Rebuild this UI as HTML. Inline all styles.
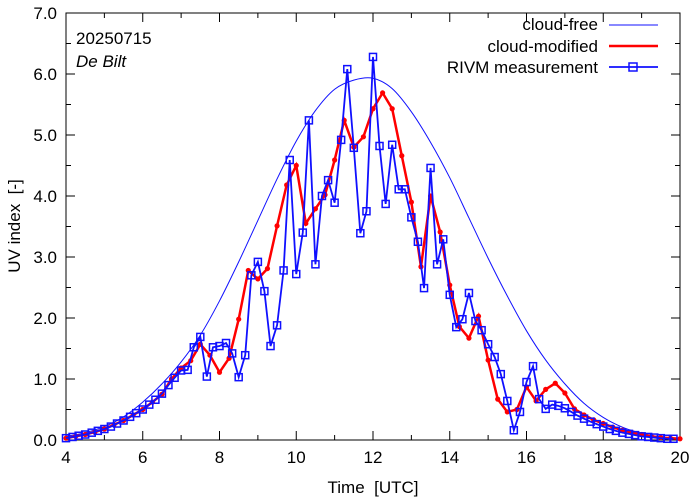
<!DOCTYPE html>
<html><head><meta charset="utf-8"><style>
body{margin:0;background:#fff}
svg{display:block;font-family:"Liberation Sans",sans-serif}
</style></head><body>
<svg id="chart" width="694" height="501" viewBox="0 0 694 501">
<g id="axes"></g>
<g id="series"></g>
<g>
<text x="76" y="44" font-size="17">20250715</text>
<text x="76" y="67" font-size="17" font-style="italic">De Bilt</text>
</g>
<g>
<text x="598" y="30" font-size="17" text-anchor="end">cloud-free</text>
<line x1="609" y1="25" x2="658" y2="25" stroke="#1010ff" stroke-width="1"/>
<text x="598" y="52" font-size="17" text-anchor="end">cloud-modified</text>
<line x1="609" y1="46" x2="658" y2="46" stroke="#f00" stroke-width="2.5"/>
<text x="598" y="73" font-size="17" text-anchor="end">RIVM measurement</text>
<line x1="609" y1="67" x2="658" y2="67" stroke="#1010ff" stroke-width="1.8"/>
<rect x="629" y="63" width="8" height="8" fill="none" stroke="#1010ff" stroke-width="1.5"/>
</g>
</svg>
<script>
const xTicks=[4,6,8,10,12,14,16,18,20];
const yTicks=[0,1,2,3,4,5,6,7];
const clearT=[4,4.5,5,5.5,6,6.5,7,7.5,8,8.5,9,9.5,10,10.5,11,11.5,12,12.5,13,13.5,14,14.5,15,15.5,16,16.5,17,17.5,18,18.5,19,19.5,20];
const clearV=[0.06,0.12,0.22,0.38,0.62,0.92,1.28,1.72,2.28,2.92,3.6,4.28,4.9,5.4,5.75,5.9,5.93,5.76,5.38,4.88,4.3,3.64,2.98,2.36,1.79,1.31,0.92,0.6,0.37,0.21,0.11,0.05,0.02];
const modT=[4,4.25,4.5,4.75,5,5.25,5.5,5.75,6,6.25,6.5,6.75,7,7.25,7.5,7.75,8,8.25,8.5,8.75,9,9.25,9.5,9.75,10,10.25,10.5,10.75,11,11.25,11.5,11.75,12,12.25,12.5,12.75,13,13.25,13.5,13.75,14,14.25,14.5,14.75,15,15.25,15.5,15.75,16,16.25,16.5,16.75,17,17.25,17.5,17.75,18,18.25,18.5,18.75,19,19.25,19.5,19.75,20];
const modV=[0.03,0.06,0.09,0.13,0.18,0.25,0.32,0.41,0.5,0.62,0.75,1.0,1.18,1.3,1.57,1.39,1.11,1.34,1.98,2.78,2.64,2.81,3.51,4.18,4.5,3.55,3.79,4.02,4.59,5.24,4.8,4.97,5.43,5.69,5.43,4.66,3.9,2.84,4.0,3.41,2.54,1.86,1.67,2.03,1.31,0.67,0.46,0.5,0.87,0.64,0.83,0.93,0.77,0.51,0.41,0.33,0.27,0.21,0.16,0.12,0.09,0.06,0.04,0.03,0.02];
const measT=[4,4.17,4.33,4.5,4.67,4.83,5,5.17,5.33,5.5,5.67,5.83,6,6.17,6.33,6.5,6.67,6.83,7,7.17,7.33,7.5,7.67,7.83,8,8.17,8.33,8.5,8.67,8.83,9,9.17,9.33,9.5,9.67,9.83,10,10.17,10.33,10.5,10.67,10.83,11,11.17,11.33,11.5,11.67,11.83,12,12.17,12.33,12.5,12.67,12.83,13,13.17,13.33,13.5,13.67,13.83,14,14.17,14.33,14.5,14.67,14.83,15,15.17,15.33,15.5,15.67,15.83,16,16.17,16.33,16.5,16.67,16.83,17,17.17,17.33,17.5,17.67,17.83,18,18.17,18.33,18.5,18.67,18.83,19,19.17,19.33,19.5,19.67,19.83];
const measV=[0.03,0.05,0.07,0.09,0.12,0.15,0.18,0.22,0.27,0.32,0.38,0.44,0.5,0.58,0.66,0.76,0.9,1.02,1.14,1.15,1.52,1.69,1.04,1.52,1.54,1.59,1.42,1.03,1.39,2.7,2.92,2.44,1.54,1.88,2.78,4.59,2.72,3.4,5.24,2.88,4.0,4.26,3.89,4.92,6.08,4.79,3.39,3.75,6.28,4.82,3.87,4.84,4.11,4.11,3.65,3.25,2.49,4.46,2.88,3.29,2.38,1.85,1.98,2.41,1.95,1.8,1.57,1.36,1.08,0.64,0.16,0.46,0.95,1.21,0.67,0.51,0.58,0.56,0.52,0.46,0.4,0.35,0.3,0.26,0.22,0.18,0.15,0.12,0.1,0.08,0.06,0.05,0.04,0.03,0.02,0.02];

const L=66,R=680,T=13,B=440;
const xs=t=>L+(t-4)/16*(R-L);
const ys=v=>B-v/7*(B-T);
const NS="http://www.w3.org/2000/svg";
function mk(tag,attrs,parent){const e=document.createElementNS(NS,tag);for(const k in attrs)e.setAttribute(k,attrs[k]);parent.appendChild(e);return e;}
const ax=document.getElementById('axes'),sr=document.getElementById('series');
const frame=mk('rect',{x:L,y:T,width:R-L,height:B-T,fill:'none',stroke:'#000','stroke-width':1},ax);


for(let h=4;h<=20;h++){const x=xs(h),len=h%2===0?9:5;
 mk('line',{x1:x,y1:B,x2:x,y2:B-len,stroke:'#000'},ax);mk('line',{x1:x,y1:T,x2:x,y2:T+len,stroke:'#000'},ax);}
xTicks.forEach(t=>{const e=mk('text',{x:xs(t),y:B+23,'font-size':17,'text-anchor':'middle'},ax);e.textContent=t;
 
 });
for(let v=0;v<=7;v+=0.5){const y=ys(v),len=Number.isInteger(v)?9:5;
 mk('line',{x1:L,y1:y,x2:L+len,y2:y,stroke:'#000'},ax);mk('line',{x1:R,y1:y,x2:R-len,y2:y,stroke:'#000'},ax);}
yTicks.forEach(v=>{const e=mk('text',{x:L-9,y:ys(v)+6,'font-size':17,'text-anchor':'end'},ax);e.textContent=v.toFixed(1);
 
 });
const xt=mk('text',{x:373,y:493,'font-size':17,'text-anchor':'middle','xml:space':'preserve'},ax);xt.textContent='Time\u00a0\u00a0[UTC]';


const yt=mk('text',{x:0,y:0,'font-size':17,'text-anchor':'middle',transform:'translate(20,226) rotate(-90)'},ax);yt.textContent='UV index\u00a0\u00a0[-]';


function smooth(T,V){const p=T.map((t,i)=>[xs(t),ys(V[i])]);let d='M'+p[0].join(',');
 for(let i=0;i<p.length-1;i++){const p0=p[i-1]||p[i],p1=p[i],p2=p[i+1],p3=p[i+2]||p2;
  d+=` C${p1[0]+(p2[0]-p0[0])/6},${p1[1]+(p2[1]-p0[1])/6} ${p2[0]-(p3[0]-p1[0])/6},${p2[1]-(p3[1]-p1[1])/6} ${p2[0]},${p2[1]}`;}return d;}
const cf=mk('path',{d:smooth(clearT,clearV),fill:'none',stroke:'#1010ff','stroke-width':1},sr);


const mod=mk('polyline',{points:modT.map((t,i)=>xs(t)+','+ys(modV[i])).join(' '),fill:'none',stroke:'#f00','stroke-width':2.5},sr);


modT.forEach((t,i)=>{const c=mk('circle',{cx:xs(t),cy:ys(modV[i]),r:2.6,fill:'#f00'},sr);
 
 });
const ms=mk('polyline',{points:measT.map((t,i)=>xs(t)+','+ys(measV[i])).join(' '),fill:'none',stroke:'#1010ff','stroke-width':1.8},sr);


measT.forEach((t,i)=>{const r=mk('rect',{x:xs(t)-3.5,y:ys(measV[i])-3.5,width:7,height:7,fill:'none',stroke:'#1010ff','stroke-width':1.5},sr);
 
 });
</script>
</body></html>
